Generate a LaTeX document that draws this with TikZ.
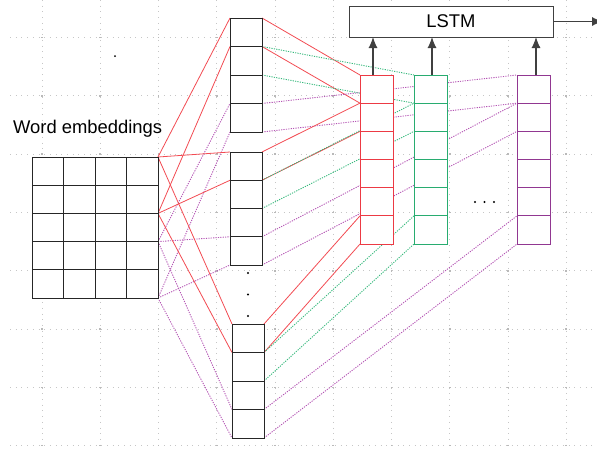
\documentclass[tikz,border=0pt]{standalone}
\usepackage{fontspec}
\setmainfont{Liberation Sans}
\usetikzlibrary{arrows.meta}
\pgfdeclarelayer{grid}
\pgfdeclarelayer{links}
\pgfsetlayers{grid,links,main}
\definecolor{redc}{RGB}{236,58,68}
\definecolor{redl}{RGB}{242,75,82}
\definecolor{greenc}{RGB}{40,172,112}
\definecolor{greenl}{RGB}{55,185,125}
\definecolor{purc}{RGB}{145,55,145}
\definecolor{purl}{RGB}{180,85,180}
\begin{document}
\begin{tikzpicture}[x=1pt,y=-1pt,
  cellbox/.style={draw=black!85,fill=white,line width=0.9pt,inner sep=0pt,outer sep=0pt},
  colbox/.style={fill=white,line width=0.9pt,inner sep=0pt,outer sep=0pt,minimum width=33pt,minimum height=28.17pt},
  redline/.style={draw=redl,line width=0.8pt},
  greenline/.style={draw=greenl,line width=0.9pt,dash pattern=on 1.2pt off 1.2pt},
  purline/.style={draw=purl,line width=0.9pt,dash pattern=on 1.2pt off 1.2pt},
  gridline/.style={draw=gray!45,line width=0.8pt,dash pattern=on 0.8pt off 4.9pt},
  upar/.style={draw=black!75,line width=1.1pt,-{Latex[length=11pt,width=9pt]}},
  dotn/.style={circle,fill=black,inner sep=0pt,minimum size=2.4pt}]
\useasboundingbox (0,0) rectangle (597,448);
% background grid
\begin{pgfonlayer}{grid}
\foreach \gx in {42,100.25,158.5,216.75,275,333.25,391.5,449.75,508,566.25}
  \draw[gridline] (\gx,0) -- (\gx,448);
\foreach \gy in {37.5,95.8,154.1,212.4,270.7,329,387.3,445.6}
  \draw[gridline] (10,\gy) -- (597,\gy);
\foreach \gx in {42,100.25,158.5,216.75,275,333.25,391.5,449.75,508,566.25}
  \foreach \gy in {37.5,95.8,154.1,212.4,270.7,329,387.3,445.6}
    \fill[gray!55] (\gx-0.8,\gy-0.8) rectangle (\gx+0.8,\gy+0.8);
\end{pgfonlayer}
% word embeddings
\node[anchor=base west,inner sep=0pt,font=\fontsize{18.4}{20}\selectfont] (we) at (13,133) {Word embeddings};
\foreach \r in {1,...,5}
  \foreach \c in {1,...,4}
    \node[cellbox,minimum width=31.5pt,minimum height=28.2pt] (e\r\c) at ({32+31.5*(\c-0.5)},{157+28.2*(\r-0.5)}) {};
% convolution blocks
\foreach \b/\bx/\bt/\bh in {1/246/18/28.5,2/246/152/28.25,3/248/324/28.5}
  \foreach \i in {1,...,4}
    \node[cellbox,minimum width=32pt,minimum height=\bh pt] (b\b-\i) at (\bx,{\bt+\bh*(\i-0.5)}) {};
% vertical dots
\node[dotn] (vd1) at (248,273) {};
\node[dotn] (vd2) at (248,294.5) {};
\node[dotn] (vd3) at (248,316) {};
% stray dot
\node[dotn,minimum size=2pt] (sd) at (115,56) {};
% coloured columns
\foreach \n/\cx/\cc in {r/376.5/redc,g/430.5/greenc,p/533.5/purc}
  \foreach \i in {1,...,6}
    \node[colbox,draw=\cc] (\n\i) at (\cx,{75+28.17*(\i-0.5)}) {};
% horizontal dots
\node[dotn] (hd1) at (475,202) {};
\node[dotn] (hd2) at (484.5,202) {};
\node[dotn] (hd3) at (494,202) {};
% LSTM
\node[draw=black!75,fill=white,line width=0.9pt,inner sep=0pt,outer sep=0pt,minimum width=204pt,minimum height=31pt,font=\fontsize{18.4}{20}\selectfont] (lstm) at (451,21.5) {LSTM};
\coordinate (outp) at (603,21.5);
\draw[upar] (lstm.east) -- (outp);
\draw[upar] ([xshift=-3.5pt]r1.north) -- ([xshift=-3.5pt]r1.north |- lstm.south);
\draw[upar] ([xshift=1.5pt]g1.north) -- ([xshift=1.5pt]g1.north |- lstm.south);
\draw[upar] ([xshift=2.5pt]p1.north) -- ([xshift=2.5pt]p1.north |- lstm.south);
% links
\begin{pgfonlayer}{links}
\foreach \b in {1,2,3} {
  \draw[redline] (e14.north east) -- (b\b-1.north west);
  \draw[redline] (e24.south east) -- (b\b-1.south west);
  \draw[purline] (e34.south east) -- (b\b-4.north west);
  \draw[purline] (e54.south east) -- (b\b-4.south west);
}
\foreach \b/\k in {1/1,2/2,3/6} {
  \draw[redline] (b\b-1.north east) -- (r\k.north west);
  \draw[redline] (b\b-1.south east) -- (r\k.south west);
  \draw[greenline] (b\b-2.north east) -- (g\k.north west);
  \draw[greenline] (b\b-2.south east) -- (g\k.south west);
  \draw[purline] (b\b-4.north east) -- (p\k.north west);
  \draw[purline] (b\b-4.south east) -- (p\k.south west);
}
\end{pgfonlayer}
\end{tikzpicture}
\end{document}
